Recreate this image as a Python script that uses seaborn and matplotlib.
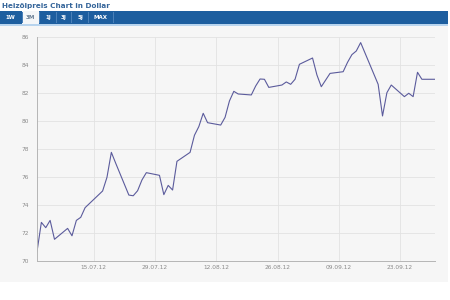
import pandas as pd
import matplotlib
matplotlib.use("Agg")
import matplotlib.pyplot as plt
import matplotlib.dates as mdates
from matplotlib.patches import Rectangle
import seaborn as sns

# ──────────────────────────────
# Data
# ──────────────────────────────
dates = [
    "2012-07-02", "2012-07-03", "2012-07-04", "2012-07-05", "2012-07-06",
    "2012-07-09", "2012-07-10", "2012-07-11", "2012-07-12", "2012-07-13",
    "2012-07-17", "2012-07-18", "2012-07-19", "2012-07-20",
    "2012-07-23", "2012-07-24", "2012-07-25", "2012-07-26", "2012-07-27",
    "2012-07-30", "2012-07-31", "2012-08-01", "2012-08-02", "2012-08-03",
    "2012-08-06", "2012-08-07", "2012-08-08", "2012-08-09", "2012-08-10",
    "2012-08-13", "2012-08-14", "2012-08-15", "2012-08-16", "2012-08-17",
    "2012-08-20", "2012-08-21", "2012-08-22", "2012-08-23", "2012-08-24",
    "2012-08-27", "2012-08-28", "2012-08-29", "2012-08-30", "2012-08-31",
    "2012-09-03", "2012-09-04", "2012-09-05", "2012-09-07",
    "2012-09-10", "2012-09-11", "2012-09-12", "2012-09-13", "2012-09-14",
    "2012-09-18", "2012-09-19", "2012-09-20", "2012-09-21",
    "2012-09-24", "2012-09-25", "2012-09-26", "2012-09-27", "2012-09-28",
    "2012-10-01",
]
prices = [
    70.67, 72.76, 72.38, 72.90, 71.55,
    72.33, 71.80, 72.90, 73.12, 73.81,
    75.00, 75.98, 77.76, 76.98,
    74.71, 74.66, 75.02, 75.79, 76.31,
    76.12, 74.74, 75.40, 75.07, 77.12,
    77.76, 78.98, 79.60, 80.55, 79.88,
    79.71, 80.26, 81.43, 82.12, 81.93,
    81.86, 82.50, 83.00, 82.98, 82.40,
    82.57, 82.79, 82.62, 82.98, 84.05,
    84.50, 83.29, 82.45, 83.40,
    83.52, 84.19, 84.74, 85.00, 85.60,
    82.62, 80.36, 82.02, 82.57,
    81.74, 81.98, 81.74, 83.48, 82.98,
    82.98,
]
tick_dates = ["2012-07-15", "2012-07-29", "2012-08-12",
              "2012-08-26", "2012-09-09", "2012-09-23"]
y_ticks = [70, 72, 74, 76, 78, 80, 82, 84, 86]
tabs = ["1W", "3M", "1J", "3J", "5J", "MAX"]

df = pd.DataFrame({"date": pd.to_datetime(dates), "price": prices})

# ──────────────────────────────
# Figure
# ──────────────────────────────
sns.set_theme(style="whitegrid")
plt.rcParams["font.family"] = ["DejaVu Sans"]

W, H = 450, 300
fig = plt.figure(figsize=(4.5, 3), dpi=100, facecolor="white")

def px_rect(x0, y0, x1, y1, **kw):
    # rectangle in pixel coords (origin top-left)
    fig.patches.append(Rectangle((x0 / W, 1 - y1 / H), (x1 - x0) / W, (y1 - y0) / H,
                                 transform=fig.transFigure, figure=fig, **kw))

# gray panel behind chart
px_rect(0, 24, 448, 282, facecolor="#f6f6f6", edgecolor="none", zorder=-2)
# blue tab bar
px_rect(0, 11, 448, 24, facecolor="#1d5e9f", edgecolor="none", zorder=1)
# selected tab
px_rect(22, 11, 39, 24, facecolor="#f4f6f8", edgecolor="none", zorder=2)
# thin light-blue line under bar
px_rect(0, 24, 448, 25.5, facecolor="#b8d4ee", edgecolor="none", zorder=2)

fig.text(2 / W, 1 - 6 / H, "Heizölpreis Chart in Dollar", fontsize=5.2,
         fontweight="bold", color="#35659a", va="center", ha="left")

tab_x = [10, 30.5, 48, 63.5, 80, 100]
for lab, tx in zip(tabs, tab_x):
    col = "#6a7f95" if lab == "3M" else "white"
    fig.text(tx / W, 1 - 17.5 / H, lab, fontsize=4.0, fontweight="bold",
             color=col, va="center", ha="center", zorder=3)
# tab separators
for sx in [22, 39, 56, 71, 88, 113]:
    px_rect(sx, 12, sx + 0.6, 23, facecolor="#4a80b8", edgecolor="none", zorder=2)

ax = fig.add_axes([37 / W, 1 - 261 / H, (435 - 37) / W, (261 - 37) / H])
ax.set_zorder(5)
ax.set_facecolor("#f6f6f6")
sns.lineplot(data=df, x="date", y="price", ax=ax, color="#5b5b9c", linewidth=0.8)

ax.set_xlim(df["date"].iloc[0], df["date"].iloc[-1])
ax.set_ylim(70, 86)
ax.set_yticks(y_ticks)
ax.set_xticks(pd.to_datetime(tick_dates))
ax.xaxis.set_major_formatter(mdates.DateFormatter("%d.%m.%y"))
ax.set_xlabel("")
ax.set_ylabel("")

ax.grid(True, color="#e2e2e2", linewidth=0.6)
for s in ["top", "right"]:
    ax.spines[s].set_visible(False)
for s in ["left", "bottom"]:
    ax.spines[s].set_color("#b5b5b5")
    ax.spines[s].set_linewidth(0.7)
ax.tick_params(axis="both", length=0, labelsize=4.2, labelcolor="#8a8a8a")
ax.tick_params(axis="y", pad=6)
ax.tick_params(axis="x", pad=3)

fig.savefig("out.png", dpi=100, facecolor="white")
